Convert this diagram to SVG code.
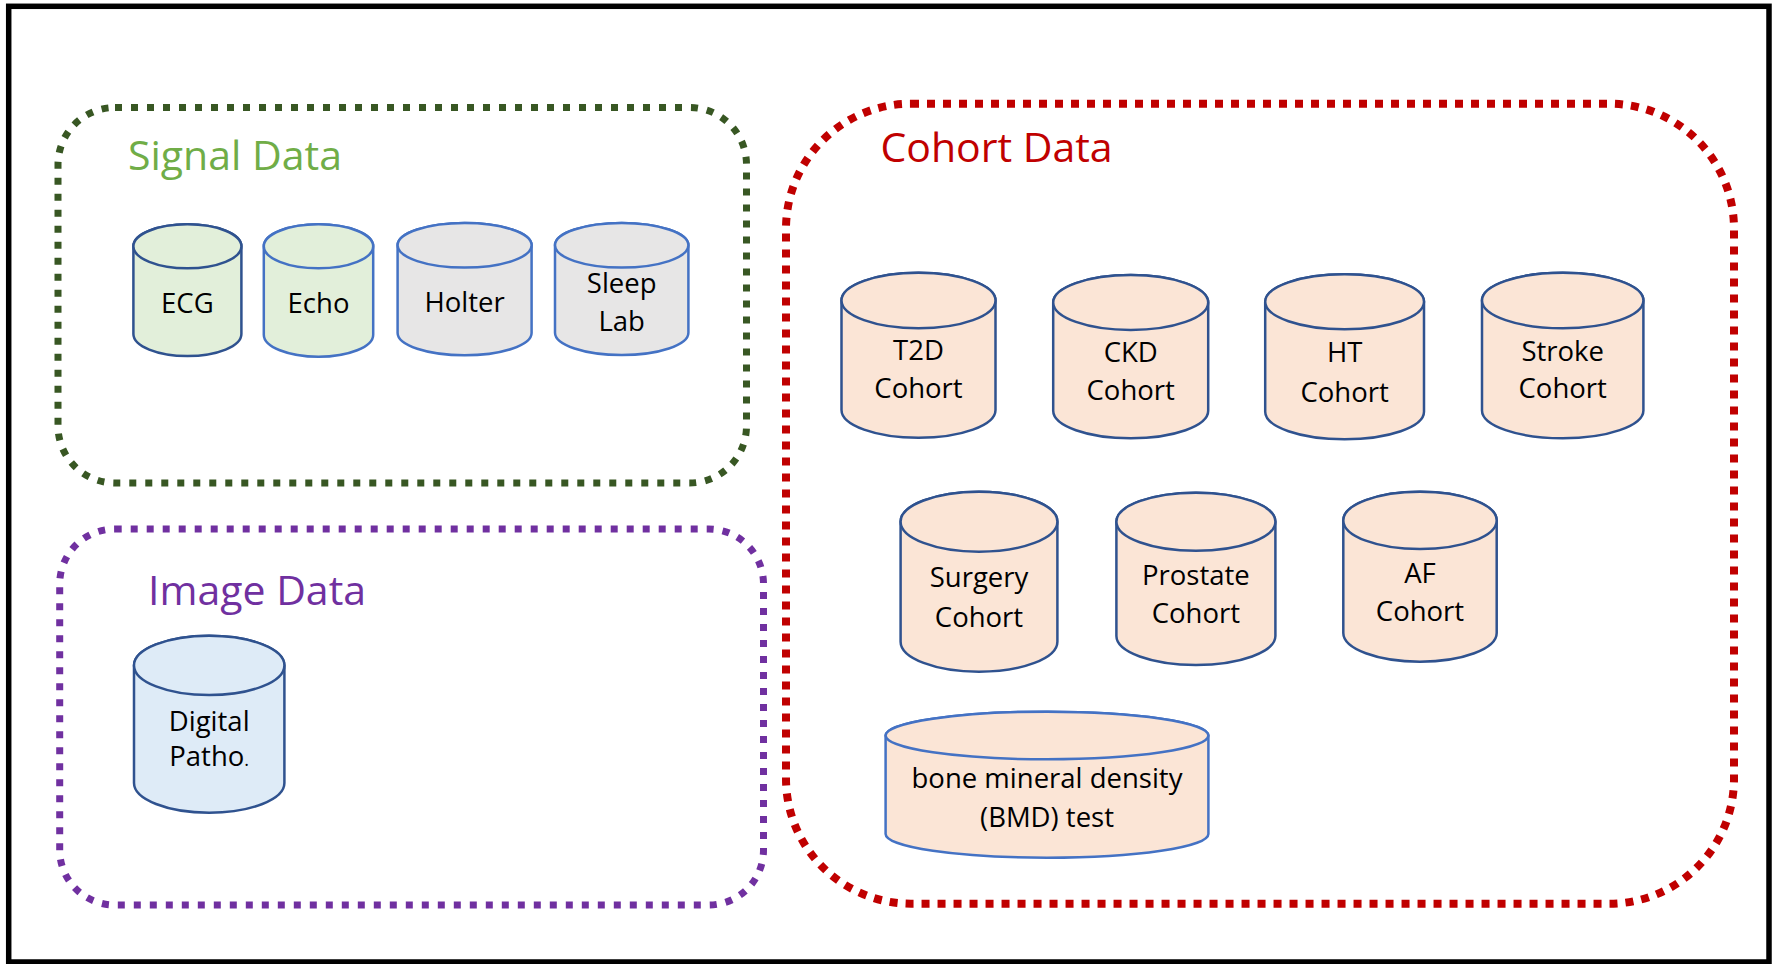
<svg xmlns="http://www.w3.org/2000/svg" width="1777" height="964" viewBox="0 0 1777 964">
<style>
.lbl{font-family:"Open Sans","Noto Sans","Liberation Sans",sans-serif;font-size:27.5px;fill:#000;text-anchor:middle}
.ttl{font-family:"Open Sans","Noto Sans","Liberation Sans",sans-serif;font-size:41px}
.cyl{stroke-width:2.5}
.green{fill:#E2EFDA}
.gray{fill:#E7E6E6}
.blue{fill:#DEEBF7}
.peach{fill:#FBE5D6}
.dk{stroke:#2F528F}
.lt{stroke:#4472C4}
.grp{fill:none}
</style>
<rect x="0" y="0" width="1777" height="964" fill="#fff"/>
<rect id="frame" x="8.7" y="6.3" width="1760.3" height="955.7" fill="none" stroke="#000" stroke-width="5.5"/>

<g id="signal-group">
<rect class="grp" x="58" y="107.5" width="688.5" height="375.5" rx="57" ry="57" stroke="#385723" stroke-width="7" stroke-dasharray="7 9"/>
<text class="ttl" x="128" y="170" fill="#70AD47">Signal Data</text>
</g>
<g id="image-group">
<rect class="grp" x="59.7" y="529" width="703.8" height="376" rx="55" ry="55" stroke="#7030A0" stroke-width="7" stroke-dasharray="7 9"/>
<text class="ttl" x="148" y="605" fill="#7030A0">Image Data</text>
</g>
<g id="cohort-group">
<rect class="grp" x="786" y="103.7" width="948" height="800" rx="125" ry="125" stroke="#C00000" stroke-width="8" stroke-dasharray="8 8"/>
<text class="ttl" x="880.4" y="161.7" fill="#C00000">Cohort Data</text>
</g>

<g id="ECG">
<path class="cyl green dk" d="M133.4,246.3 A54,22 0 0 1 241.4,246.3 V334 A54,22 0 0 1 133.4,334 Z"/>
<ellipse class="cyl green dk" cx="187.4" cy="246.3" rx="54" ry="22"/>
<text class="lbl" x="187.4" y="313">ECG</text>
</g>
<g id="Echo">
<path class="cyl green lt" d="M263.8,246.3 A54.7,22 0 0 1 373.2,246.3 V334.7 A54.7,22 0 0 1 263.8,334.7 Z"/>
<ellipse class="cyl green lt" cx="318.5" cy="246.3" rx="54.7" ry="22"/>
<text class="lbl" x="318.5" y="313">Echo</text>
</g>
<g id="Holter">
<path class="cyl gray lt" d="M397.6,245.3 A67,22.3 0 0 1 531.6,245.3 V333 A67,22.3 0 0 1 397.6,333 Z"/>
<ellipse class="cyl gray lt" cx="464.6" cy="245.3" rx="67" ry="22.3"/>
<text class="lbl" x="464.6" y="312.3">Holter</text>
</g>
<g id="SleepLab">
<path class="cyl gray lt" d="M555,245.3 A66.7,22.3 0 0 1 688.4,245.3 V332.7 A66.7,22.3 0 0 1 555,332.7 Z"/>
<ellipse class="cyl gray lt" cx="621.7" cy="245.3" rx="66.7" ry="22.3"/>
<text class="lbl" x="621.7" y="292.7">Sleep</text>
<text class="lbl" x="621.7" y="330.7">Lab</text>
</g>

<g id="DigitalPatho">
<path class="cyl blue dk" d="M134,665.4 A75.2,29.7 0 0 1 284.4,665.4 V783 A75.2,29.7 0 0 1 134,783 Z"/>
<ellipse class="cyl blue dk" cx="209.2" cy="665.4" rx="75.2" ry="29.7"/>
<text class="lbl" x="209.2" y="731">Digital</text>
<text class="lbl" x="209.2" y="765.7">Patho<tspan font-size="18">.</tspan></text>
</g>

<g id="T2D">
<path class="cyl peach dk" d="M841.5,300.5 A77,27.8 0 0 1 995.5,300.5 V409.9 A77,27.8 0 0 1 841.5,409.9 Z"/>
<ellipse class="cyl peach dk" cx="918.5" cy="300.5" rx="77" ry="27.8"/>
<text class="lbl" x="918.5" y="360">T2D</text>
<text class="lbl" x="918.5" y="398.3">Cohort</text>
</g>
<g id="CKD">
<path class="cyl peach dk" d="M1053.2,302.5 A77.5,27.5 0 0 1 1208.2,302.5 V410.8 A77.5,27.5 0 0 1 1053.2,410.8 Z"/>
<ellipse class="cyl peach dk" cx="1130.7" cy="302.5" rx="77.5" ry="27.5"/>
<text class="lbl" x="1130.7" y="361.7">CKD</text>
<text class="lbl" x="1130.7" y="400">Cohort</text>
</g>
<g id="HT">
<path class="cyl peach dk" d="M1265.2,301.8 A79.4,27.5 0 0 1 1424,301.8 V411.8 A79.4,27.5 0 0 1 1265.2,411.8 Z"/>
<ellipse class="cyl peach dk" cx="1344.6" cy="301.8" rx="79.4" ry="27.5"/>
<text class="lbl" x="1344.6" y="361.7">HT</text>
<text class="lbl" x="1344.6" y="401.7">Cohort</text>
</g>
<g id="Stroke">
<path class="cyl peach dk" d="M1482,300.5 A80.7,27.8 0 0 1 1643.4,300.5 V410.5 A80.7,27.8 0 0 1 1482,410.5 Z"/>
<ellipse class="cyl peach dk" cx="1562.7" cy="300.5" rx="80.7" ry="27.8"/>
<text class="lbl" x="1562.7" y="361">Stroke</text>
<text class="lbl" x="1562.7" y="398.3">Cohort</text>
</g>
<g id="Surgery">
<path class="cyl peach dk" d="M900.6,521.7 A78.4,30 0 0 1 1057.4,521.7 V641.7 A78.4,30 0 0 1 900.6,641.7 Z"/>
<ellipse class="cyl peach dk" cx="979" cy="521.7" rx="78.4" ry="30"/>
<text class="lbl" x="979" y="587.3">Surgery</text>
<text class="lbl" x="979" y="626.7">Cohort</text>
</g>
<g id="Prostate">
<path class="cyl peach dk" d="M1116.4,521.7 A79.5,29 0 0 1 1275.4,521.7 V636 A79.5,29 0 0 1 1116.4,636 Z"/>
<ellipse class="cyl peach dk" cx="1195.9" cy="521.7" rx="79.5" ry="29"/>
<text class="lbl" x="1195.9" y="585">Prostate</text>
<text class="lbl" x="1195.9" y="623.3">Cohort</text>
</g>
<g id="AF">
<path class="cyl peach dk" d="M1343.3,520.4 A76.7,28.7 0 0 1 1496.7,520.4 V633 A76.7,28.7 0 0 1 1343.3,633 Z"/>
<ellipse class="cyl peach dk" cx="1420" cy="520.4" rx="76.7" ry="28.7"/>
<text class="lbl" x="1420" y="582.7">AF</text>
<text class="lbl" x="1420" y="620.7">Cohort</text>
</g>
<g id="BMD">
<path class="cyl peach lt" d="M885.6,735.5 A161.4,23.8 0 0 1 1208.4,735.5 V833.9 A161.4,23.8 0 0 1 885.6,833.9 Z"/>
<ellipse class="cyl peach lt" cx="1047" cy="735.5" rx="161.4" ry="23.8"/>
<text class="lbl" x="1047" y="788.3">bone mineral density</text>
<text class="lbl" x="1047" y="826.7">(BMD) test</text>
</g>

<g id="connectors"></g>
</svg>
